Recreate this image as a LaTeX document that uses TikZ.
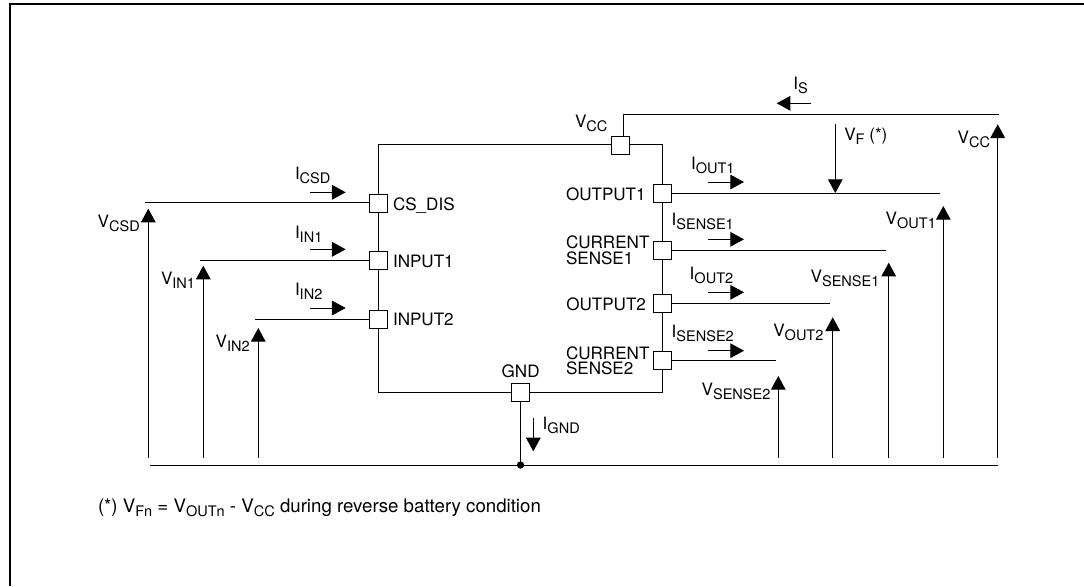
\documentclass[tikz,border=0pt]{standalone}
\usepackage{fontspec}
\setmainfont{TeX Gyre Heros}
\usetikzlibrary{arrows.meta}
\newcommand\SB[1]{\raisebox{-3.2pt}{\fontsize{10.9}{11}\selectfont #1}}
\tikzset{
  x=.75pt,y=-.75pt,
  wire/.style={line width=.75pt,line cap=butt},
  arr/.style={wire,-{Triangle[length=10.3pt,width=11pt]}},
  pinbox/.style={draw,fill=white,line width=.75pt,minimum size=13.5pt,inner sep=0pt,outer sep=0pt},
  lab/.style={anchor=base west,inner sep=0pt,outer sep=0pt,font=\fontsize{12.8}{14}\selectfont},
  two/.style={lab,align=left,font=\fontsize{12.8}{11.5}\selectfont},
  foot/.style={lab,font=\fontsize{14}{16}\selectfont},
  dot/.style={circle,fill=black,inner sep=0pt,minimum size=5.5pt},
}
\begin{document}
\begin{tikzpicture}
\useasboundingbox (0,0) rectangle (1084,586);
% frame
\coordinate (f1) at (10,586); \coordinate (f2) at (10,4); \coordinate (f3) at (1084,4);
\draw[line width=1.5pt,line cap=butt,line join=miter] (f1) -- (f2) -- (f3);
% body corners
\coordinate (tl) at (378.5,144.3); \coordinate (tr) at (662.5,144.3);
\coordinate (br) at (662.5,392.3); \coordinate (bl) at (378.5,392.3);
\draw[wire] (tl) -- (tr) -- (br) -- (bl) -- cycle;
% lead ends
\coordinate (vccA) at (623.3,136); \coordinate (vccB) at (623.3,114.3); \coordinate (vccE) at (999,114.3);
\coordinate (eCSD) at (145,202.5); \coordinate (eIN1) at (200,260); \coordinate (eIN2) at (255,319.3);
\coordinate (eO1) at (940,193.3); \coordinate (eS1) at (885.7,250.3);
\coordinate (eO2) at (830,303.3); \coordinate (eS2) at (776,360.3);
\coordinate (gl) at (150,465); \coordinate (gr) at (998,465);
% pins
\node[pinbox] (vcc) at (620,145.5) {};
\node[pinbox] (csdis) at (378.5,203) {};
\node[pinbox] (in1) at (378.5,260) {};
\node[pinbox] (in2) at (378.5,319.3) {};
\node[pinbox] (o1) at (662.5,193.5) {};
\node[pinbox] (s1) at (662.5,250.3) {};
\node[pinbox] (o2) at (662.5,303.7) {};
\node[pinbox] (s2) at (662.5,360.2) {};
\node[pinbox] (gnd) at (520.5,392.3) {};
\node[dot] (j) at (520.5,465) {};
% leads
\draw[wire] (vccA) -- (vccB) -- (vccE);
\draw[wire] (eCSD) -- (csdis.west |- eCSD);
\draw[wire] (eIN1) -- (in1.west);
\draw[wire] (eIN2) -- (in2.west);
\draw[wire] (o1.east |- eO1) -- (eO1);
\draw[wire] (s1.east) -- (eS1);
\draw[wire] (o2.east |- eO2) -- (eO2);
\draw[wire] (s2.east |- eS2) -- (eS2);
\draw[wire] (gnd.south) -- (j.center);
\draw[wire] (gl) -- (gr);
% voltage arrows
\foreach \n/\xx/\yy in {csd/148.3/208.7,vin1/203.3/265.7,vin2/258.3/328,vs2/778.3/376,vo2/832.7/317.3,vs1/888.7/262.7,vo1/943.3/206,vc/997.7/124.3}{
  \coordinate (\n a) at (\xx,458); \coordinate (\n b) at (\xx,\yy);
  \draw[arr] (\n a) -- (\n b);
}
\coordinate (vfa) at (835.3,124); \coordinate (vfb) at (835.3,193);
\draw[arr] (vfa) -- (vfb);
% current arrows
\foreach \n/\xa/\xb/\yy in {is/810.7/776.7/103.3,io1/708/744/182,is1/708/744/239.3,io2/708/744/292.3,is2/708/744/350.7,ic/310/345.7/192.3,ii1/310/345.7/249.3,ii2/310/345.7/308}{
  \coordinate (\n a) at (\xa,\yy); \coordinate (\n b) at (\xb,\yy);
  \draw[arr] (\n a) -- (\n b);
}
\coordinate (iga) at (533.3,418.3); \coordinate (igb) at (533.3,451.3);
\draw[arr] (iga) -- (igb);
% labels
\node[lab] (tVccT) at (575,127.3) {V\SB{CC}};
\node[lab] (tVf) at (844.3,140) {V\SB{F} (*)};
\node[lab] (tVccR) at (957.7,143) {V\SB{CC}};
\node[lab] (tIs) at (793.3,89) {I\SB{S}};
\node[lab] (tIo1) at (691,169) {I\SB{OUT1}};
\node[lab] (tO1) at (566,200.7) {OUTPUT1};
\node[lab] (tVo1) at (885.7,224) {V\SB{OUT1}};
\node[lab] (tIs1) at (671.7,225) {I\SB{SENSE1}};
\node[two] (tC1) at (566,264.3) {CURRENT\\SENSE1};
\node[lab] (tIo2) at (689.7,279.3) {I\SB{OUT2}};
\node[lab] (tVs1) at (810.7,282.7) {V\SB{SENSE1}};
\node[lab] (tIc) at (295,179) {I\SB{CSD}};
\node[lab] (tCs) at (393,210) {CS\_DIS};
\node[lab] (tVc) at (97.7,227.3) {V\SB{CSD}};
\node[lab] (tIi1) at (295,238.3) {I\SB{IN1}};
\node[lab] (tI1) at (393,267.3) {INPUT1};
\node[lab] (tVi1) at (161,284.7) {V\SB{IN1}};
\node[lab] (tIi2) at (295,295.3) {I\SB{IN2}};
\node[lab] (tI2) at (393,325) {INPUT2};
\node[lab] (tVi2) at (215.7,347.3) {V\SB{IN2}};
\node[lab] (tO2) at (566.3,310) {OUTPUT2};
\node[lab] (tIs2) at (671.7,337.3) {I\SB{SENSE2}};
\node[lab] (tVo2) at (773.3,336.7) {V\SB{OUT2}};
\node[two] (tC2) at (566,374.7) {CURRENT\\SENSE2};
\node[lab] (tG) at (501.7,377.7) {GND};
\node[lab] (tVs2) at (701.7,395.7) {V\SB{SENSE2}};
\node[lab] (tIg) at (542.7,429.3) {I\SB{GND}};
\node[foot] (tF) at (98,512.3) {(*) V\SB{Fn} = V\SB{OUTn} - V\SB{CC} during reverse battery condition};
\end{tikzpicture}
\end{document}
